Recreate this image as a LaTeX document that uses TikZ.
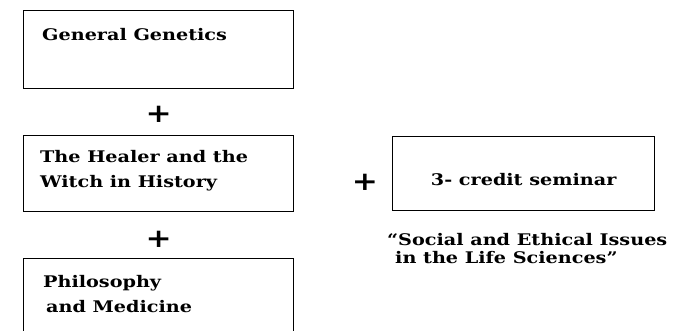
\documentclass[tikz,border=0pt]{standalone}
\usepackage{fontspec}
\setmainfont[FakeStretch=1.2]{DejaVu Serif}
\usetikzlibrary{positioning,calc}

\begin{document}
\begin{tikzpicture}[
  x=1pt, y=-1pt,
  course/.style={draw, line width=1.4pt, minimum width=270pt, inner sep=0pt, anchor=north west},
  coursetext/.style={font=\bfseries\fontsize{16}{25}\selectfont, align=left, inner sep=0pt, anchor=base west},
  plus/.style={font=\bfseries\fontsize{26}{26}\selectfont, inner sep=0pt}
]
\useasboundingbox (0,0) rectangle (674,330);
\clip (0,0) rectangle (674,330);

% Course boxes
\node[course, minimum height=78pt] (genetics) at (23,10) {};
\node[course, minimum height=76pt] (healer) at (23,135) {};
\node[course, minimum height=110pt] (philo) at (23,258) {};

% Seminar on the right
\node[course, minimum width=262pt, minimum height=74pt] (seminar) at (392,136) {};

% Titles (base = last line)
\node[coursetext] (geneticstext) at (42,40) {General Genetics};
\node[coursetext] (healertext) at (40,187) {The Healer and the\\Witch in History};
\node[coursetext] (philotext) at (43,312) {Philosophy\\\hspace{3pt}and Medicine};
\node[coursetext, anchor=base] (seminartext) at (seminar.center |- 0,185) {3- credit seminar};
\node[coursetext, font=\bfseries\fontsize{16}{18}\selectfont] (seminarname) at (387,263)
  {``Social and Ethical Issues\\\hspace{8pt}in the Life Sciences''};

% Plus signs
\node[plus] (plusA) at ($(genetics.south)!0.55!(healer.north)$) {+};
\node[plus] (plusB) at ($(healer.south)!0.6!(philo.north)$) {+};
\node[plus] (plusC) at (365,182) {+};

\end{tikzpicture}
\end{document}
